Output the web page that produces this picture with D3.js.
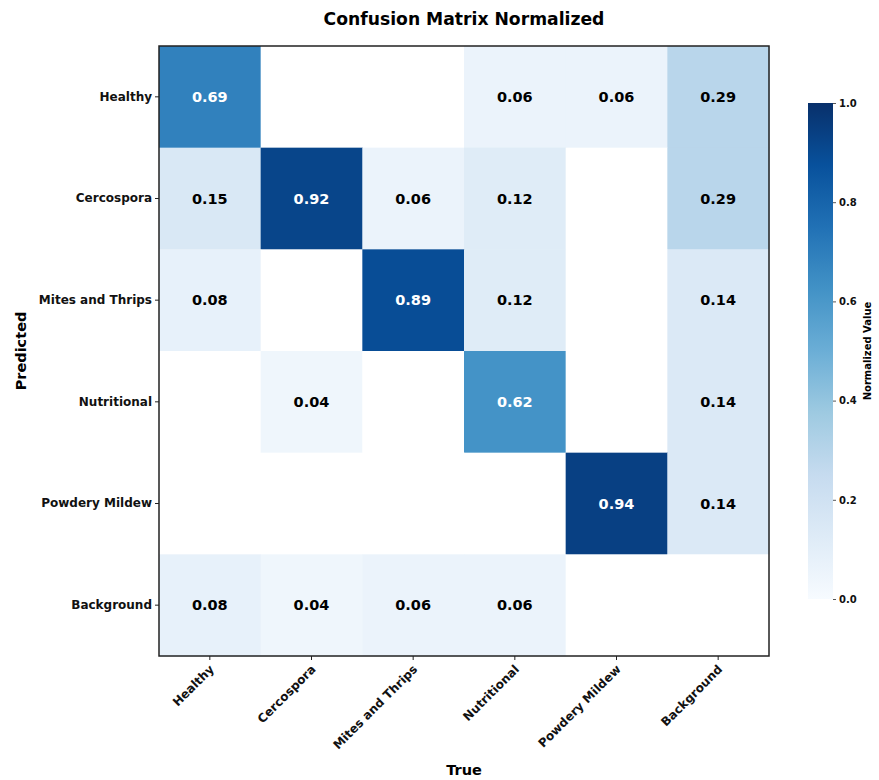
<!DOCTYPE html>
<html>
<head>
<meta charset="utf-8">
<script src="https://cdn.jsdelivr.net/npm/d3@7"></script>
<style>
  body { margin: 0; background: #fff; }
  svg { font-family: "DejaVu Sans", sans-serif; }
</style>
</head>
<body>
<svg id="chart" width="879" height="780"></svg>
<script>
const labels = ["Healthy", "Cercospora", "Mites and Thrips", "Nutritional", "Powdery Mildew", "Background"];
// rows = Predicted, columns = True
const rowHealthy    = [0.69, 0.00, 0.00, 0.06, 0.06, 0.29];
const rowCercospora = [0.15, 0.92, 0.06, 0.12, 0.00, 0.29];
const rowMites      = [0.08, 0.00, 0.89, 0.12, 0.00, 0.14];
const rowNutrition  = [0.00, 0.04, 0.00, 0.62, 0.00, 0.14];
const rowPowdery    = [0.00, 0.00, 0.00, 0.00, 0.94, 0.14];
const rowBackground = [0.08, 0.04, 0.06, 0.06, 0.00, 0.00];
const matrix = [rowHealthy, rowCercospora, rowMites, rowNutrition, rowPowdery, rowBackground];
const colorbarTicks = [0.0, 0.2, 0.4, 0.6, 0.8, 1.0];
const bluesStops = ["#f7fbff","#deebf7","#c6dbef","#9ecae1","#6baed6","#4292c6","#2171b5","#08519c","#08306b"];

const svg = d3.select("#chart");
const plotLeft = 159, plotTop = 46, plotSize = 610;

const x = d3.scaleBand().domain(labels).range([plotLeft, plotLeft + plotSize]);
const y = d3.scaleBand().domain(labels).range([plotTop, plotTop + plotSize]);
const color = d3.scaleLinear()
  .domain(bluesStops.map((_, i) => i / (bluesStops.length - 1)))
  .range(bluesStops)
  .clamp(true);

const cells = [];
matrix.forEach((row, r) => row.forEach((v, c) => cells.push({r: labels[r], c: labels[c], v})));

svg.append("g").selectAll("rect").data(cells).join("rect")
  .attr("x", d => x(d.c))
  .attr("y", d => y(d.r))
  .attr("width", x.bandwidth() + 0.5)
  .attr("height", y.bandwidth() + 0.5)
  .attr("fill", d => d.v === 0 ? "#ffffff" : color(d.v));

svg.append("g").selectAll("text").data(cells.filter(d => d.v > 0)).join("text")
  .attr("x", d => x(d.c) + x.bandwidth() / 2)
  .attr("y", d => y(d.r) + y.bandwidth() / 2)
  .attr("text-anchor", "middle")
  .attr("dominant-baseline", "central")
  .attr("font-size", 14.5)
  .attr("font-weight", "bold")
  .attr("fill", d => d.v > 0.5 ? "#ffffff" : "#000000")
  .text(d => d.v.toFixed(2));

// frame
svg.append("rect")
  .attr("x", plotLeft).attr("y", plotTop).attr("width", plotSize).attr("height", plotSize)
  .attr("fill", "none").attr("stroke", "#222").attr("stroke-width", 1.5);

// y axis
const yAxis = svg.append("g").attr("transform", `translate(${plotLeft},0)`)
  .call(d3.axisLeft(y).tickSize(4).tickPadding(3));
yAxis.select(".domain").remove();
yAxis.selectAll("line").attr("stroke", "#222");
yAxis.selectAll("text").attr("font-size", 12).attr("font-weight", "bold")
  .attr("font-family", "DejaVu Sans").attr("fill", "#111");

// x axis
const xAxis = svg.append("g").attr("transform", `translate(0,${plotTop + plotSize})`)
  .call(d3.axisBottom(x).tickSize(4).tickPadding(3));
xAxis.select(".domain").remove();
xAxis.selectAll("line").attr("stroke", "#222");
xAxis.selectAll("text")
  .attr("font-size", 12).attr("font-weight", "bold")
  .attr("font-family", "DejaVu Sans").attr("fill", "#111")
  .attr("text-anchor", "end")
  .attr("dy", null)
  .attr("y", 0)
  .attr("transform", "translate(5,14) rotate(-45)");

// title and axis labels
svg.append("text").attr("x", plotLeft + plotSize / 2).attr("y", 24.5)
  .attr("text-anchor", "middle").attr("font-size", 17.2).attr("font-weight", "bold")
  .text("Confusion Matrix Normalized");
svg.append("text").attr("x", plotLeft + plotSize / 2).attr("y", 775)
  .attr("text-anchor", "middle").attr("font-size", 14.5).attr("font-weight", "bold")
  .text("True");
svg.append("text").attr("transform", `translate(26,${plotTop + plotSize / 2}) rotate(-90)`)
  .attr("text-anchor", "middle").attr("font-size", 14.5).attr("font-weight", "bold")
  .text("Predicted");

// colorbar
const cbX = 808, cbW = 25, cbTop = 103, cbBottom = 599;
const cbScale = d3.scaleLinear().domain([0, 1]).range([cbBottom, cbTop]);
const defs = svg.append("defs");
const grad = defs.append("linearGradient").attr("id", "cbgrad")
  .attr("x1", 0).attr("y1", 1).attr("x2", 0).attr("y2", 0);
grad.selectAll("stop").data(bluesStops).join("stop")
  .attr("offset", (d, i) => i / (bluesStops.length - 1))
  .attr("stop-color", d => d);
svg.append("rect").attr("x", cbX).attr("y", cbTop).attr("width", cbW)
  .attr("height", cbBottom - cbTop).attr("fill", "url(#cbgrad)");
const cbAxis = svg.append("g").attr("transform", `translate(${cbX + cbW},0)`)
  .call(d3.axisRight(cbScale).tickValues(colorbarTicks).tickFormat(d3.format(".1f")).tickSize(3).tickPadding(3));
cbAxis.select(".domain").remove();
cbAxis.selectAll("line").attr("stroke", "#555");
cbAxis.selectAll("text").attr("font-size", 10).attr("font-weight", "bold")
  .attr("font-family", "DejaVu Sans").attr("fill", "#111");
svg.append("text").attr("transform", `translate(871,${(cbTop + cbBottom) / 2}) rotate(-90)`)
  .attr("text-anchor", "middle").attr("font-size", 10).attr("font-weight", "bold")
  .text("Normalized Value");
</script>
</body>
</html>
